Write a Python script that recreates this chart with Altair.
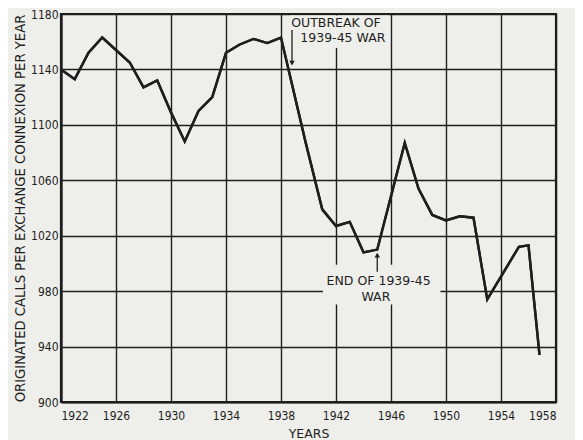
import altair as alt
import pandas as pd

years = [1922, 1923, 1924, 1925, 1927, 1928, 1929, 1930, 1931, 1932, 1933,
         1934, 1935, 1936, 1937, 1938, 1939.8, 1941, 1942, 1943, 1944, 1945,
         1947, 1948, 1949, 1950, 1951, 1952, 1953, 1955.3, 1956, 1956.8]
calls = [1140, 1133, 1152, 1163, 1145, 1127, 1132, 1109, 1088, 1110, 1120,
         1152, 1158, 1162, 1159, 1163, 1087, 1039, 1027, 1030, 1008, 1010,
         1087, 1054, 1035, 1031, 1034, 1033, 974, 1012, 1013, 934]

x_ticks = list(range(1922, 1959, 4))
y_ticks = list(range(900, 1181, 40))

# annotation texts
note_text = ["OUTBREAK OF", "1939-45 WAR", "END OF 1939-45", "WAR"]
note_x = [1942.0, 1942.5, 1945.1, 1944.9]
note_y = [1173.3, 1162.5, 987.1, 975.8]

# arrows: shaft start/end and head
arrow_x = [1938.8, 1945.0]
arrow_y1 = [1168.5, 994.0]
arrow_y2 = [1145.5, 1005.0]
arrow_shape = ["triangle-down", "triangle-up"]
arrow_head_y = [1144.5, 1006.0]

# label boxes that hide grid lines
box_x1 = [1938.65, 1941.05]
box_x2 = [1945.8, 1949.6]
box_y1 = [1179.0, 970.3]
box_y2 = [1155.5, 999.1]

BG = "#eeeeea"
INK = "#1e1e1e"
FONT = "DejaVu Sans Condensed, DejaVu Sans, sans-serif"

df = pd.DataFrame({"year": years, "calls": calls})
notes = pd.DataFrame({"t": note_text, "x": note_x, "y": note_y})
arrows = pd.DataFrame({"x": arrow_x, "y1": arrow_y1, "y2": arrow_y2,
                       "shape": arrow_shape, "hy": arrow_head_y})
boxes = pd.DataFrame({"x1": box_x1, "x2": box_x2, "y1": box_y1, "y2": box_y2})

xs = alt.Scale(domain=[1922, 1958], nice=False, zero=False)
ys = alt.Scale(domain=[900, 1180], nice=False, zero=False)

xaxis = alt.Axis(values=x_ticks, format="d", title="YEARS", grid=True,
                 gridColor=INK, gridWidth=1.4, gridOpacity=1,
                 domainColor=INK, domainWidth=2.2, ticks=False, tickSize=0,
                 labelPadding=8, labelFont=FONT, labelFontSize=12,
                 labelColor=INK, titleFont="DejaVu Sans", titleFontSize=12.5,
                 titleFontWeight="normal", titleColor=INK, titleY=31,
                 titleBaseline="middle")
yaxis = alt.Axis(values=y_ticks, format="d",
                 title="ORIGINATED CALLS PER EXCHANGE CONNEXION PER YEAR",
                 grid=True, gridColor=INK, gridWidth=1.4, gridOpacity=1,
                 domainColor=INK, domainWidth=2.2, ticks=False, tickSize=0,
                 labelPadding=3, labelFont=FONT, labelFontSize=12,
                 labelColor=INK, titleFont="DejaVu Sans", titleFontSize=13.2,
                 titleFontWeight="normal", titleColor=INK, titleX=-41,
                 titleY=194, titleAngle=-90, titleAlign="center",
                 titleBaseline="middle")

base_line = alt.Chart(df).mark_line(color=INK, strokeWidth=2.4,
                                    strokeJoin="miter").encode(
    x=alt.X("year:Q", scale=xs, axis=xaxis),
    y=alt.Y("calls:Q", scale=ys, axis=yaxis),
)

box_layer = alt.Chart(boxes).mark_rect(color=BG).encode(
    x=alt.X("x1:Q", scale=xs), x2="x2:Q",
    y=alt.Y("y1:Q", scale=ys), y2="y2:Q",
)

shafts = alt.Chart(arrows).mark_rule(color=INK, strokeWidth=1.3).encode(
    x=alt.X("x:Q", scale=xs), y=alt.Y("y1:Q", scale=ys), y2="y2:Q",
)
heads = alt.Chart(arrows).mark_point(filled=True, color=INK, size=30,
                                     opacity=1).encode(
    x=alt.X("x:Q", scale=xs), y=alt.Y("hy:Q", scale=ys),
    shape=alt.Shape("shape:N", scale=None),
)

texts = alt.Chart(notes).mark_text(font="DejaVu Sans", fontSize=12.5,
                                   color=INK, align="center",
                                   baseline="middle").encode(
    x=alt.X("x:Q", scale=xs), y=alt.Y("y:Q", scale=ys), text="t:N",
)

chart = alt.layer(base_line, box_layer, base_line, shafts, heads, texts).properties(
    width=495, height=388,
    autosize=alt.AutoSizeParams(type="none"),
    padding={"left": 53, "top": 6, "right": 19, "bottom": 38},
    background=BG,
).configure_view(stroke=INK, strokeWidth=2.2)

chart.save("out.html", embed_options={"renderer": "svg", "actions": False})
